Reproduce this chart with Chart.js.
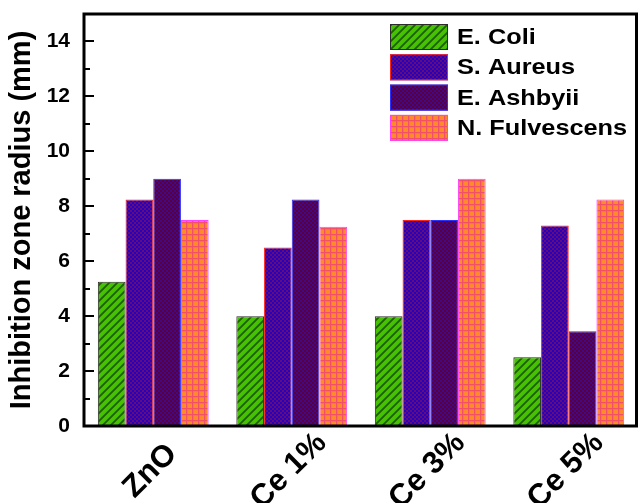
<!DOCTYPE html>
<html><head><meta charset="utf-8">
<script src="https://cdn.jsdelivr.net/npm/chart.js@4"></script>
<style>html,body{margin:0;padding:0;background:#fff;}#wrap{width:638px;height:503px;}</style>
</head><body><div id="wrap"><canvas id="c" width="638" height="503"></canvas></div>
<script>
const categories = ['ZnO', 'Ce 1%', 'Ce 3%', 'Ce 5%'];
const seriesNames = ['E. Coli', 'S. Aureus', 'E. Ashbyii', 'N. Fulvescens'];
const eColi = [5.25, 4, 4, 2.5];
const sAureus = [8.25, 6.5, 7.5, 7.3];
const eAshbyii = [9, 8.25, 7.5, 3.45];
const nFulvescens = [7.5, 7.25, 9, 8.25];
const yTicks = [0, 2, 4, 6, 8, 10, 12, 14];
const yMax = 15;

const FONT = "'Liberation Sans', Arial, sans-serif";
const mainCtx = document.getElementById('c').getContext('2d');
function makePattern(size, draw) {
  const c = document.createElement('canvas');
  c.width = size; c.height = size;
  const g = c.getContext('2d');
  draw(g, size);
  return mainCtx.createPattern(c, 'repeat');
}
function checker(g, s, base, accent) {
  g.fillStyle = base; g.fillRect(0, 0, s, s);
  g.fillStyle = accent;
  for (let i = 0; i < s; i += 2) for (let j = 0; j < s; j += 2)
    if (((i + j) / 2) % 2 === 0) g.fillRect(i, j, 2, 2);
}
const pGreen = makePattern(8, (g, s) => {
  g.fillStyle = '#46c300'; g.fillRect(0, 0, s, s);
  g.strokeStyle = '#1d5e00'; g.lineWidth = 1.8;
  g.beginPath();
  g.moveTo(-1, s + 1); g.lineTo(s + 1, -1);
  g.moveTo(-s - 1, s + 1); g.lineTo(1, -1);
  g.moveTo(s - 1, s + 1); g.lineTo(2 * s + 1, -1);
  g.stroke();
});
const pBlue = makePattern(8, (g, s) => checker(g, s, '#2000cc', '#6a0c6c'));
const pDark = makePattern(8, (g, s) => checker(g, s, '#5e0036', '#3c0a90'));
const pOrange = makePattern(6, (g, s) => {
  g.fillStyle = '#ff8a2a'; g.fillRect(0, 0, s, s);
  g.fillStyle = 'rgba(232,40,150,0.6)';
  g.fillRect(0, 0, 1, s); g.fillRect(1, 0, s - 1, 1);
  g.fillStyle = 'rgba(232,40,150,0.2)';
  g.fillRect(1, 1, 1, s - 1); g.fillRect(2, 1, s - 2, 1);
});

const overlay = {
  id: 'overlay',
  afterDraw(chart) {
    const { ctx, chartArea: a, scales: { x, y } } = chart;
    ctx.save();
    ctx.strokeStyle = '#000'; ctx.lineWidth = 2;
    yTicks.forEach((v, i) => {
      const py = Math.round(y.getPixelForValue(v));
      ctx.beginPath(); ctx.moveTo(a.left, py); ctx.lineTo(a.left + 10, py); ctx.stroke();
      const mv = v + (i + 1 < yTicks.length ? (yTicks[i + 1] - v) / 2 : 1);
      if (mv < yMax) {
        const my = Math.round(y.getPixelForValue(mv));
        ctx.beginPath(); ctx.moveTo(a.left, my); ctx.lineTo(a.left + 6, my); ctx.stroke();
      }
    });
    ctx.lineWidth = 3; ctx.strokeStyle = '#000';
    ctx.strokeRect(a.left, a.top, a.right - 1.5 - a.left, a.bottom - a.top);
    ctx.fillStyle = '#000';
    ctx.font = 'bold 31px ' + FONT;
    ctx.textAlign = 'center'; ctx.textBaseline = 'middle';
    categories.forEach((c, i) => {
      const px = x.getPixelForValue(i) - 3;
      ctx.save();
      ctx.translate(px, a.bottom + 45);
      ctx.rotate(-Math.PI / 4);
      ctx.fillText(c, 0, 0);
      ctx.restore();
    });
    chart.data.datasets.forEach((ds, i) => {
      const sx = a.right - 248, sy = a.top + 10 + i * 30.3;
      ctx.fillStyle = ds.backgroundColor;
      ctx.fillRect(sx, sy, 58, 26);
      ctx.lineWidth = 1; ctx.strokeStyle = ds.borderColor;
      ctx.strokeRect(sx + 0.5, sy + 0.5, 57, 25);
      ctx.save();
      ctx.fillStyle = '#000';
      ctx.font = 'bold 22px ' + FONT;
      ctx.textAlign = 'left'; ctx.textBaseline = 'middle';
      ctx.translate(sx + 67, sy + 14);
      ctx.scale(1.15, 1);
      ctx.fillText(ds.label, 0, 0);
      ctx.restore();
    });
    ctx.restore();
  }
};

new Chart(mainCtx, {
  type: 'bar',
  data: {
    labels: categories,
    datasets: [
      { label: seriesNames[0], data: eColi, backgroundColor: pGreen, borderColor: '#2b2b2b', borderWidth: 1 },
      { label: seriesNames[1], data: sAureus, backgroundColor: pBlue, borderColor: '#ff2020', borderWidth: 1 },
      { label: seriesNames[2], data: eAshbyii, backgroundColor: pDark, borderColor: '#3030ff', borderWidth: 1 },
      { label: seriesNames[3], data: nFulvescens, backgroundColor: pOrange, borderColor: '#ff40ff', borderWidth: 1 }
    ]
  },
  options: {
    responsive: false,
    animation: false,
    devicePixelRatio: 1,
    categoryPercentage: 0.8,
    barPercentage: 1.0,
    layout: { padding: { top: 14, right: 0, left: 0, bottom: 0 } },
    plugins: { legend: { display: false }, tooltip: { enabled: false } },
    scales: {
      x: {
        type: 'category', offset: true,
        grid: { display: false, drawTicks: false },
        border: { display: false },
        ticks: { display: false },
        afterFit: s => { s.height = 77; s.paddingLeft = 0; s.paddingRight = 0; }
      },
      y: {
        min: 0, max: yMax,
        grid: { display: false, drawTicks: false },
        border: { display: false },
        afterBuildTicks: s => { s.ticks = yTicks.map(v => ({ value: v })); },
        afterFit: s => { s.width = 84; s.paddingTop = 0; s.paddingBottom = 0; },
        ticks: { color: '#000', padding: 14, font: { family: FONT, size: 21, weight: 'bold' } },
        title: {
          display: true, text: 'Inhibition zone radius (mm)', color: '#000',
          padding: { top: 5, bottom: 0 },
          font: { family: FONT, size: 29, weight: 'bold' }
        }
      }
    }
  },
  plugins: [overlay]
});
</script>
</body></html>
